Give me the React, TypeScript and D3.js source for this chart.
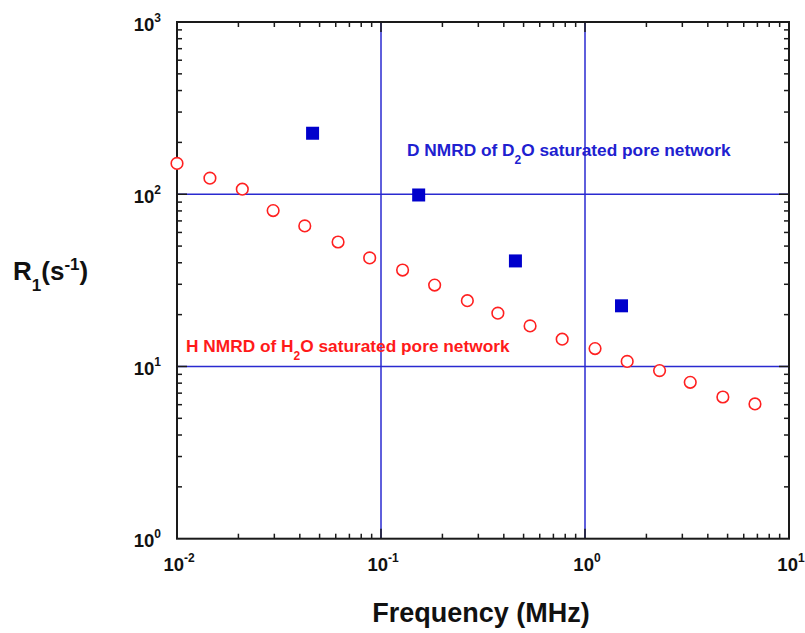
import { useEffect, useRef } from 'react'
import * as d3 from 'd3'

// H NMRD (H2O) - open red circles
const hFreq = [0.01, 0.0145, 0.0209, 0.0296, 0.0423, 0.0616, 0.088, 0.1276, 0.1832, 0.265, 0.374, 0.538, 0.773, 1.12, 1.61, 2.32, 3.28, 4.74, 6.81]
const hR1 = [151, 124, 107, 80.4, 65.5, 52.8, 42.7, 36.3, 29.7, 24.1, 20.4, 17.2, 14.4, 12.7, 10.7, 9.46, 8.09, 6.65, 6.06]

// D NMRD (D2O) - filled blue squares
const dFreq = [0.0462, 0.153, 0.456, 1.51]
const dR1 = [226, 99, 41, 22.5]

// reference grid lines
const vLines = [0.1, 1]
const hLines = [10, 100]

const xDomain = [0.01, 10]
const yDomain = [1, 1000]

const W = 805
const H = 633

export default function App() {
  const svgRef = useRef<SVGSVGElement>(null)

  useEffect(() => {
    if (!svgRef.current) return
    const svg = d3.select(svgRef.current)
    svg.selectAll('*').remove()

    const left = 177, right = 789, top = 22, bottom = 538.7
    const x = d3.scaleLog().domain(xDomain).range([left, right])
    const y = d3.scaleLog().domain(yDomain).range([bottom, top])

    const lineBlue = '#2a2ad0'
    const frame = '#1a1a1a'

    // blue reference lines
    vLines.forEach(v => {
      svg.append('line')
        .attr('x1', x(v)).attr('x2', x(v))
        .attr('y1', top).attr('y2', bottom)
        .attr('stroke', lineBlue).attr('stroke-width', 1.5)
    })
    hLines.forEach(v => {
      svg.append('line')
        .attr('x1', left).attr('x2', right)
        .attr('y1', y(v)).attr('y2', y(v))
        .attr('stroke', lineBlue).attr('stroke-width', 1.5)
    })

    // ticks (inside, all four sides)
    const isMajor = (v: number) => Math.abs(Math.log10(v) - Math.round(Math.log10(v))) < 1e-9
    x.ticks().forEach(t => {
      const len = isMajor(t) ? 10 : 5
      if (t <= xDomain[0] || t >= xDomain[1]) return
      svg.append('line').attr('x1', x(t)).attr('x2', x(t)).attr('y1', bottom).attr('y2', bottom - len)
        .attr('stroke', frame).attr('stroke-width', 1.5)
      svg.append('line').attr('x1', x(t)).attr('x2', x(t)).attr('y1', top).attr('y2', top + len)
        .attr('stroke', frame).attr('stroke-width', 1.5)
    })
    y.ticks().forEach(t => {
      const len = isMajor(t) ? 10 : 5
      if (t <= yDomain[0] || t >= yDomain[1]) return
      svg.append('line').attr('x1', left).attr('x2', left + len).attr('y1', y(t)).attr('y2', y(t))
        .attr('stroke', frame).attr('stroke-width', 1.5)
      svg.append('line').attr('x1', right).attr('x2', right - len).attr('y1', y(t)).attr('y2', y(t))
        .attr('stroke', frame).attr('stroke-width', 1.5)
    })

    // frame
    svg.append('rect')
      .attr('x', left).attr('y', top)
      .attr('width', right - left).attr('height', bottom - top)
      .attr('fill', 'none').attr('stroke', frame).attr('stroke-width', 2)

    const font = 'Arial, "Liberation Sans", sans-serif'

    // x tick labels
    x.ticks().filter(isMajor).forEach(t => {
      const e = Math.round(Math.log10(t))
      const txt = svg.append('text')
        .attr('x', x(t) + 2).attr('y', 571)
        .attr('text-anchor', 'middle')
        .attr('font-family', font).attr('font-weight', 'bold').attr('font-size', 18.5)
        .attr('fill', '#111')
      txt.append('tspan').text('10')
      txt.append('tspan').attr('dy', -9).attr('font-size', 12).text(String(e))
    })

    // y tick labels
    y.ticks().filter(isMajor).forEach(t => {
      const e = Math.round(Math.log10(t))
      const txt = svg.append('text')
        .attr('x', 161).attr('y', y(t) + 8.5)
        .attr('text-anchor', 'end')
        .attr('font-family', font).attr('font-weight', 'bold').attr('font-size', 18.5)
        .attr('fill', '#111')
      txt.append('tspan').text('10')
      txt.append('tspan').attr('dy', -9).attr('font-size', 12).text(String(e))
    })

    // axis titles
    svg.append('text')
      .attr('x', 481).attr('y', 622)
      .attr('text-anchor', 'middle')
      .attr('font-family', font).attr('font-weight', 'bold').attr('font-size', 27)
      .attr('fill', '#111')
      .text('Frequency (MHz)')

    const yt = svg.append('text')
      .attr('x', 13).attr('y', 280)
      .attr('font-family', font).attr('font-weight', 'bold').attr('font-size', 26)
      .attr('fill', '#111')
    yt.append('tspan').text('R')
    yt.append('tspan').attr('dy', 11).attr('font-size', 17).text('1')
    yt.append('tspan').attr('dy', -11).text('(s')
    yt.append('tspan').attr('dy', -10).attr('font-size', 17).text('-1')
    yt.append('tspan').attr('dy', 10).text(')')

    // annotations
    const dNote = svg.append('text')
      .attr('x', 407).attr('y', 156)
      .attr('font-family', font).attr('font-weight', 'bold').attr('font-size', 17.3)
      .attr('fill', '#2020d0')
    dNote.append('tspan').text('D NMRD of D')
    dNote.append('tspan').attr('dy', 8).attr('font-size', 12).text('2')
    dNote.append('tspan').attr('dy', -8).text('O saturated pore network')

    const hNote = svg.append('text')
      .attr('x', 186).attr('y', 352)
      .attr('font-family', font).attr('font-weight', 'bold').attr('font-size', 17.3)
      .attr('fill', '#ff1a1a')
    hNote.append('tspan').text('H NMRD of H')
    hNote.append('tspan').attr('dy', 8).attr('font-size', 12).text('2')
    hNote.append('tspan').attr('dy', -8).text('O saturated pore network')

    // H data: open circles
    svg.append('g').selectAll('circle')
      .data(hFreq.map((f, i) => [f, hR1[i]]))
      .join('circle')
      .attr('cx', d => x(d[0])).attr('cy', d => y(d[1]))
      .attr('r', 5.8)
      .attr('fill', 'white').attr('stroke', '#ff2020').attr('stroke-width', 1.6)

    // D data: filled squares
    const s = 13
    svg.append('g').selectAll('rect')
      .data(dFreq.map((f, i) => [f, dR1[i]]))
      .join('rect')
      .attr('x', d => x(d[0]) - s / 2).attr('y', d => y(d[1]) - s / 2)
      .attr('width', s).attr('height', s)
      .attr('fill', '#0000cc')
  }, [])

  return (
    <svg ref={svgRef} width={W} height={H} style={{ position: 'absolute', left: 0, top: 0, background: 'white' }} />
  )
}
